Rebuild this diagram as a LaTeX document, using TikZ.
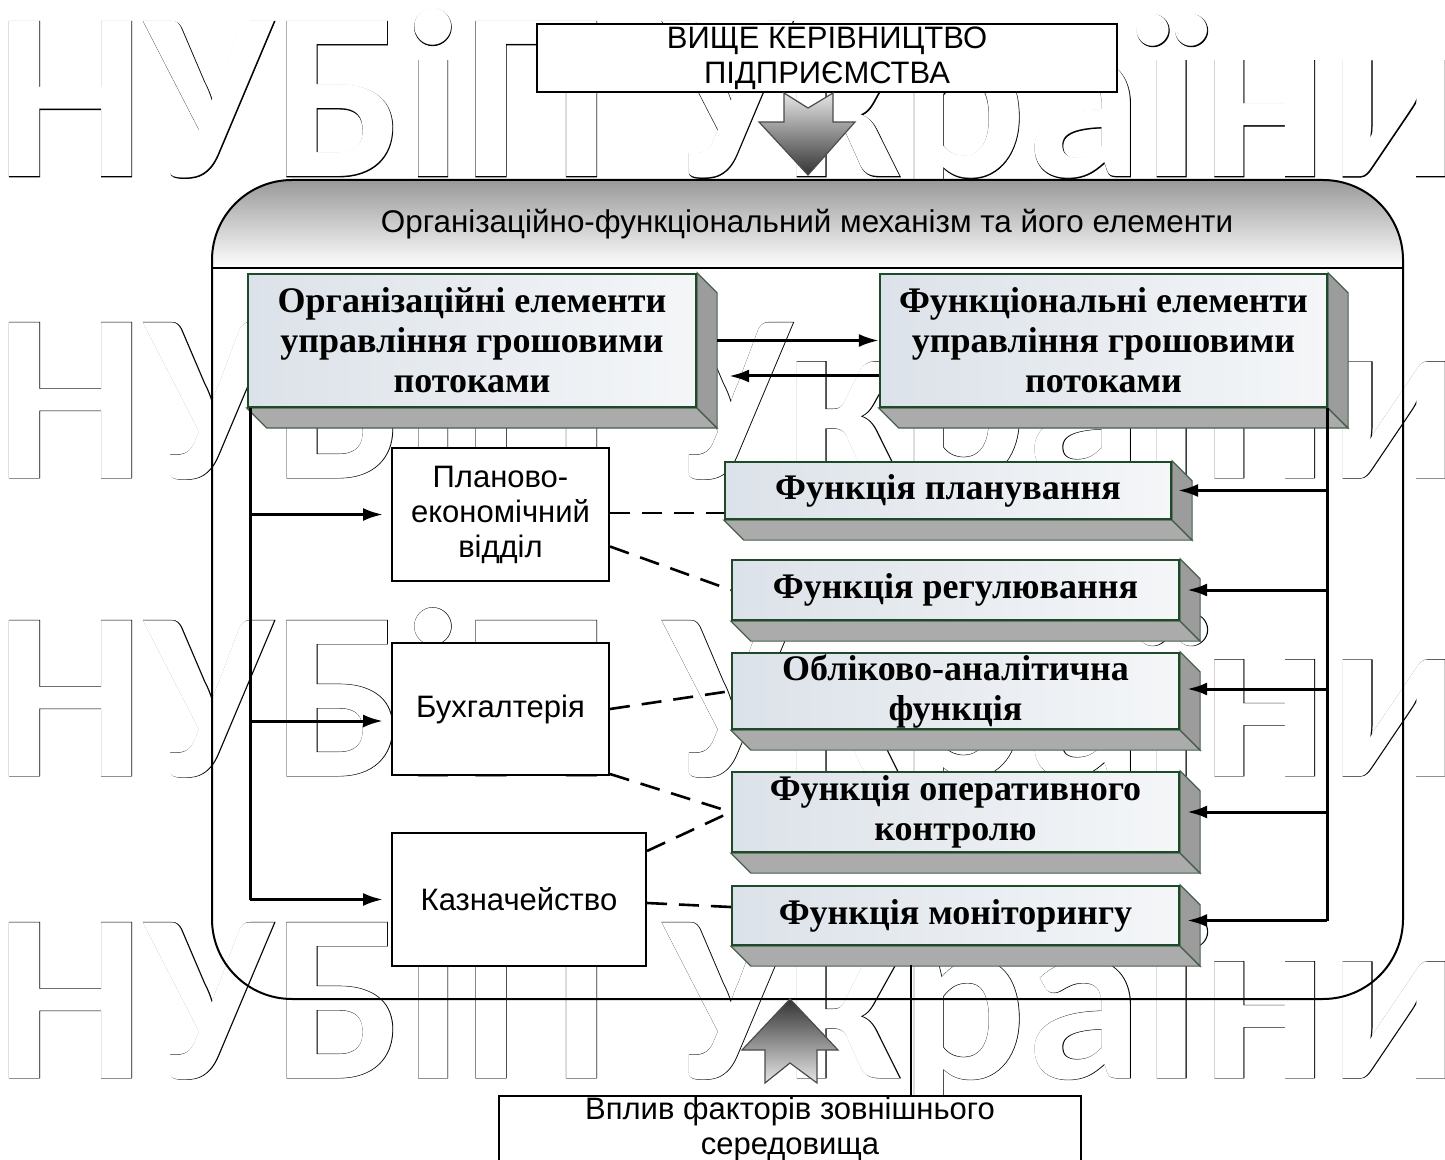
\documentclass[tikz,border=0pt]{standalone}
\usepackage{graphicx}
\usepackage{fontspec}
\setmainfont{Liberation Serif}
\setsansfont{Liberation Sans}
\newfontfamily\wmstroke{Carlito Bold}[FakeBold=0.35]
\newfontfamily\wmfill{Carlito Bold}
\usetikzlibrary{arrows.meta}
\pgfdeclarelayer{wm}
\pgfdeclarelayer{bg}
\pgfsetlayers{wm,bg,main}
\definecolor{edgegreen}{HTML}{1F4A2A}
\definecolor{facel}{HTML}{DCE2E9}
\definecolor{facer}{HTML}{F4F6F8}
\definecolor{sidegray}{HTML}{9C9C9C}
\definecolor{botgray}{HTML}{ABABAB}
\newcommand{\extrude}[1]{%
  \begin{pgfonlayer}{bg}
  \filldraw[draw=edgegreen!60!gray, line width=0.6pt, fill=botgray]
    (#1.south west) -- ([shift={(20,20)}]#1.south west) -- ([shift={(20,20)}]#1.south east) -- (#1.south east) -- cycle;
  \filldraw[draw=edgegreen!60!gray, line width=0.6pt, fill=sidegray]
    (#1.north east) -- ([shift={(20,20)}]#1.north east) -- ([shift={(20,20)}]#1.south east) -- (#1.south east) -- cycle;
  \end{pgfonlayer}}
\newcommand{\wmtxt}{\scalebox{0.98}[1]{НУБіП України}}
\tikzset{
  fbox/.style={draw=edgegreen, line width=1.1pt, left color=facel, right color=facer,
    font=\bfseries\fontsize{18}{20}\selectfont, align=center, inner sep=0pt},
  sbox/.style={draw=black, line width=1pt, fill=white,
    font=\sffamily\fontsize{15.5}{17.5}\selectfont, align=center, inner sep=0pt},
  conn/.style={line width=1.5pt, -{Latex[length=10pt,width=6.5pt]}},
  plainline/.style={line width=1.5pt},
  dsh/.style={line width=1.3pt, dash pattern=on 10pt off 6pt},
  wmouter/.style={anchor=base west, inner sep=0pt, font=\wmstroke\fontsize{120}{122}\selectfont},
  wminner/.style={anchor=base west, inner sep=0pt, text=white, font=\wmfill\fontsize{120}{122}\selectfont},
  bigarrow/.style={draw=black!70, line width=0.6pt}
}
\begin{document}
\begin{tikzpicture}[x=0.5pt,y=-0.5pt]
\useasboundingbox (0,0) rectangle (1445,1160);
\begin{pgfonlayer}{wm}
\fill[white] (0,0) rectangle (1445,1160);
\foreach \yy/\nm in {177/wmA,478/wmB,776/wmC,1078/wmD}{
  \node[wmouter] (\nm) at (-4,\yy) {\wmtxt};
  \node[wminner] (\nm w) at (-4,\yy) {\wmtxt};
}
\end{pgfonlayer}

% container with header band
\begin{scope}
\clip[rounded corners=40pt] (212,180) rectangle (1403,999);
\shade[top color=black!40, bottom color=white] (212,180) rectangle (1403,268);
\end{scope}
\draw[line width=1pt, rounded corners=40pt] (212,180) rectangle (1403,999);
\draw[line width=1pt] (212,268) -- (1403,268);
\node[font=\sffamily\fontsize{15.7}{17}\selectfont] (title) at (807,224) {Організаційно-функціональний механізм та його елементи};

% top and bottom boxes
\node[sbox, minimum width=290pt, minimum height=34pt] (vk) at (827,58) {ВИЩЕ КЕРІВНИЦТВО\\ПІДПРИЄМСТВА};
\node[sbox, minimum width=291pt, minimum height=33pt] (env) at (790,1129) {Вплив факторів зовнішнього\\середовища};

% big arrows
\shade[bigarrow, top color=gray!20, bottom color=black!80]
  (784,93) -- (808,108) -- (833,93) -- (833,122) -- (855,122) -- (808,175) -- (759,122) -- (784,122) -- cycle;
\shade[bigarrow, top color=black!80, bottom color=gray!20]
  (790,999) -- (838,1050) -- (817,1050) -- (817,1083) -- (790,1063) -- (765,1083) -- (765,1050) -- (742,1050) -- cycle;

% 3D boxes
\node[fbox, minimum width=224pt, minimum height=66.5pt] (org) at (472,340.5) {Організаційні елементи\\управління грошовими\\потоками};
\node[fbox, minimum width=223.5pt, minimum height=66.5pt] (func) at (1103.5,340.5) {Функціональні елементи\\управління грошовими\\потоками};
\node[fbox, minimum width=223pt, minimum height=28.5pt] (f1) at (948,490.5) {Функція планування};
\node[fbox, minimum width=223.5pt, minimum height=30pt] (f2) at (955.5,590) {Функція регулювання};
\node[fbox, minimum width=223.5pt, minimum height=38pt] (f3) at (955.5,691) {Обліково-аналітична\\функція};
\node[fbox, minimum width=223.5pt, minimum height=40pt] (f4) at (955.5,812) {Функція оперативного\\контролю};
\node[fbox, minimum width=223.5pt, minimum height=29.5pt] (f5) at (955.5,915.5) {Функція моніторингу};
\extrude{org}\extrude{func}\extrude{f1}\extrude{f2}\extrude{f3}\extrude{f4}\extrude{f5}

% left boxes
\node[sbox, minimum width=108.5pt, minimum height=66.5pt] (plan) at (500.5,514.5) {Планово-\\економічний\\відділ};
\node[sbox, minimum width=108.5pt, minimum height=66pt] (buh) at (500.5,709) {Бухгалтерія};
\node[sbox, minimum width=127pt, minimum height=66.5pt] (kaz) at (519,899.5) {Казначейство};

% connectors between top boxes
\draw[conn] ([xshift=10pt]org.east) -- (func.west);
\draw[conn] ([yshift=-17.75pt]func.west) -- ([xshift=16pt,yshift=-17.75pt]org.east);

% left bus
\coordinate (lv) at (250,900);
\draw[plainline] (org.south west -| lv) -- (lv);
\draw[conn] (lv |- plan.west) -- ([xshift=-4pt]plan.west);
\draw[conn] ([yshift=-6pt]lv |- buh.west) -- ([xshift=-4pt,yshift=-6pt]buh.west);
\draw[conn] (lv |- kaz.west) -- ([xshift=-4pt]kaz.west);

% right bus
\coordinate (rv) at (1327,921);
\draw[plainline] (func.south east -| rv) -- (rv);
\draw[conn] (rv |- f1.east) -- ([xshift=3pt]f1.east);
\draw[conn] (rv |- f2.east) -- ([xshift=3.5pt]f2.east);
\draw[conn] ([yshift=1pt]rv |- f3.east) -- ([xshift=3.5pt,yshift=1pt]f3.east);
\draw[conn] (rv |- f4.east) -- ([xshift=3.5pt]f4.east);
\draw[conn] ([yshift=-2.5pt]rv |- f5.east) -- ([xshift=3.5pt,yshift=-2.5pt]f5.east);

% dashed links
\draw[dsh] ([yshift=0.75pt]plan.east) -- ([yshift=0.75pt]f1.west |- plan.east);
\draw[dsh] ([yshift=-16pt]plan.east) -- (f2.west);
\draw[dsh] (buh.east) -- (f3.west);
\draw[dsh] ([yshift=1pt]buh.south east) -- (f4.west);
\draw[dsh] ([yshift=-9.5pt]kaz.north east) -- (f4.west);
\draw[dsh] ([yshift=-1.75pt]kaz.east) -- ([yshift=4.25pt]f5.west);

% line to the environment box
\coordinate (vl) at (911,965);
\draw[line width=0.6pt] (env.north -| vl) -- (vl);
\end{tikzpicture}
\end{document}
